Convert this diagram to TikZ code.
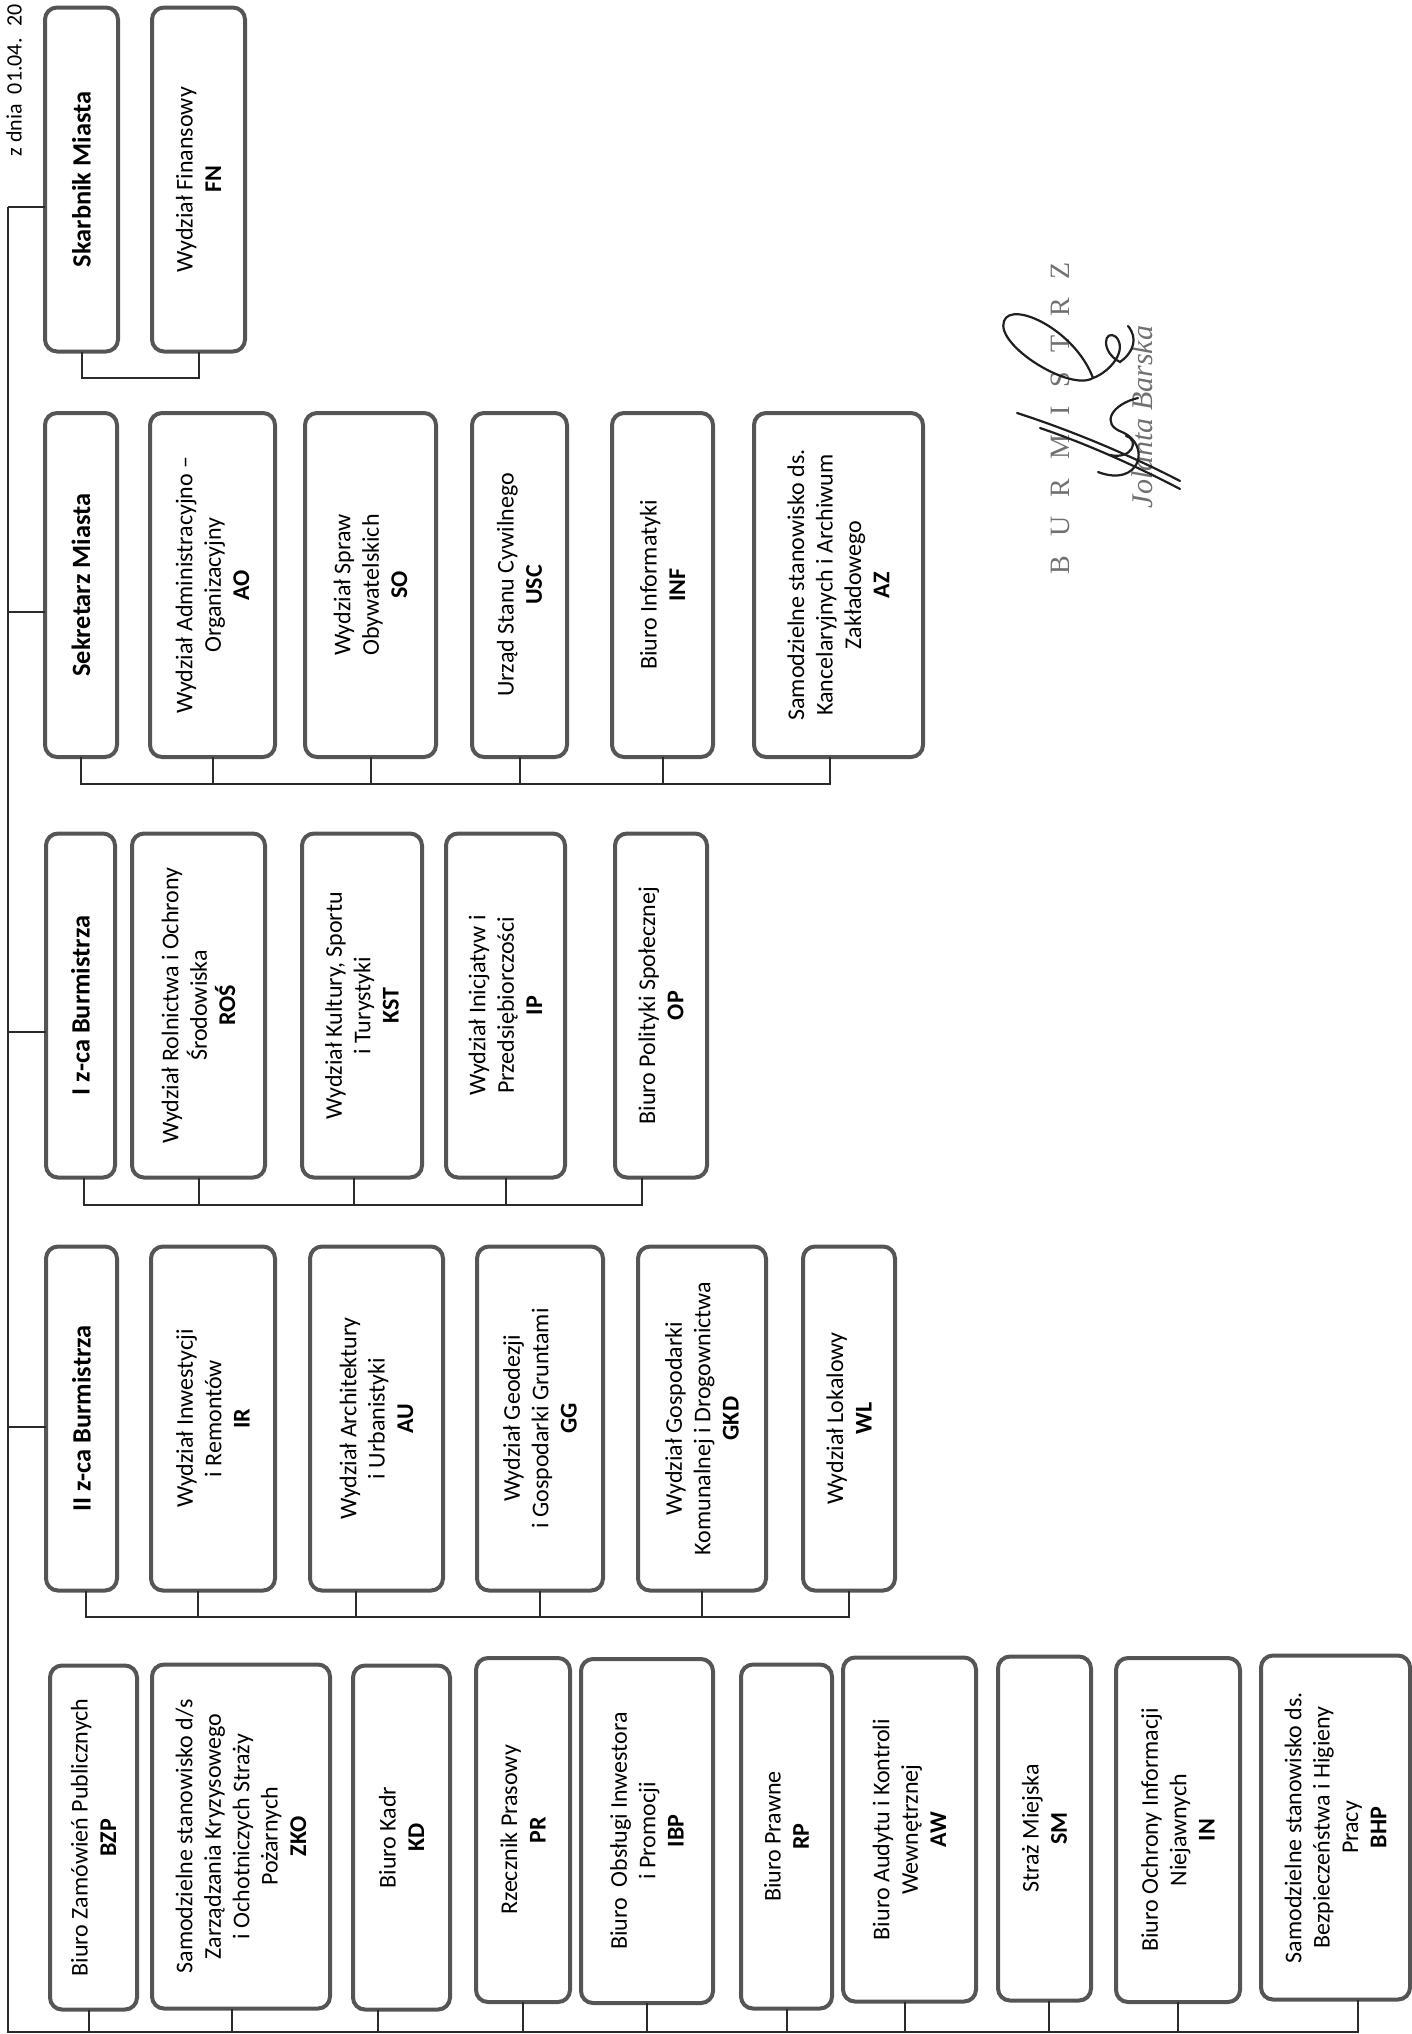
\documentclass[tikz,border=0pt]{standalone}
\usepackage{fontspec}
\setmainfont{Carlito}
\newfontfamily\stampfont{Liberation Serif}
\usepackage{tikz}
\usetikzlibrary{calc}
\definecolor{boxc}{HTML}{555555}
\definecolor{linec}{HTML}{2B2B2B}
\definecolor{stampc}{HTML}{707070}
\definecolor{inkc}{HTML}{1F1F1F}
\tikzset{
  dept/.style={draw=boxc,line width=2pt,rounded corners=6pt,rotate=90,align=center,inner sep=2pt,outer sep=0pt,minimum width=172pt,font=\fontsize{12}{14.2}\selectfont},
  chief/.style={dept,font=\fontsize{13.2}{15.5}\selectfont\bfseries},
  conn/.style={linec,line width=1pt},
  sig/.style={inkc,line width=1.1pt,line cap=round}
}

\begin{document}
\begin{tikzpicture}[x=0.5pt,y=-0.5pt]
\useasboundingbox (0,0) rectangle (1412,2034);
% main line
\coordinate (r1) at (8,207);
\coordinate (r2) at (8,612);
\coordinate (r3) at (8,1032);
\coordinate (r4) at (8,1427);
\coordinate (r5) at (8,2032);
\node[rotate=90,anchor=east,inner sep=1pt,font=\fontsize{11}{13}\selectfont] (date) at (14,2) {z dnia~ 01.04.~ 20};
% Skarbnik
\node[chief,minimum height=36.5pt] (skarb) at (81.5,179.5) {Skarbnik Miasta};
\node[dept,minimum height=46.5pt] (fn) at (198.5,179.5) {Wydział Finansowy\\\textbf{FN}};
% Sekretarz
\node[chief,minimum height=36pt] (sek) at (81,585) {Sekretarz Miasta};
\node[dept,minimum height=62.5pt] (ao) at (212.5,585) {Wydział Administracyjno --\\Organizacyjny\\\textbf{AO}};
\node[dept,minimum height=65.5pt] (so) at (370.5,585) {Wydział Spraw\\Obywatelskich\\\textbf{SO}};
\node[dept,minimum height=47.5pt] (usc) at (519.5,585) {Urząd Stanu Cywilnego\\\textbf{USC}};
\node[dept,minimum height=50.5pt] (inf) at (662.5,585) {Biuro Informatyki\\\textbf{INF}};
\node[dept,minimum height=84.5pt] (az) at (838.5,585) {Samodzielne stanowisko ds.\\Kancelaryjnych i Archiwum\\Zakładowego\\\textbf{AZ}};
% I z-ca
\node[chief,minimum height=34.5pt] (zca1) at (80.5,1005.5) {I z-ca Burmistrza};
\node[dept,minimum height=66.5pt] (ros) at (198.5,1005.5) {Wydział Rolnictwa i Ochrony\\Środowiska\\\textbf{ROŚ}};
\node[dept,minimum height=60pt] (kst) at (362,1005.5) {Wydział Kultury, Sportu\\i Turystyki\\\textbf{KST}};
\node[dept,minimum height=59.5pt] (ip) at (505.5,1005.5) {Wydział Inicjatyw i\\Przedsiębiorczości\\\textbf{IP}};
\node[dept,minimum height=46pt] (op) at (661,1005.5) {Biuro Polityki Społecznej\\\textbf{OP}};
% II z-ca
\node[chief,minimum height=35.5pt] (zca2) at (81.5,1418.5) {II z-ca Burmistrza};
\node[dept,minimum height=62pt] (ir) at (213,1418.5) {Wydział Inwestycji\\i Remontów\\\textbf{IR}};
\node[dept,minimum height=66.5pt] (au) at (376.5,1418.5) {Wydział Architektury\\i Urbanistyki\\\textbf{AU}};
\node[dept,minimum height=63pt] (gg) at (540,1418.5) {Wydział Geodezji\\i Gospodarki Gruntami\\\textbf{GG}};
\node[dept,minimum height=64pt] (gkd) at (702,1418.5) {Wydział Gospodarki\\Komunalnej i Drogownictwa\\\textbf{GKD}};
\node[dept,minimum height=46pt] (wl) at (849,1418.5) {Wydział Lokalowy\\\textbf{WL}};
% Burmistrz units
\node[dept,minimum height=43.5pt] (bzp) at (93.5,1837.5) {Biuro Zamówień Publicznych\\\textbf{BZP}};
\node[dept,minimum height=89pt] (zko) at (241,1836.5) {Samodzielne stanowisko d/s\\Zarządzania Kryzysowego\\i Ochotniczych Straży\\Pożarnych\\\textbf{ZKO}};
\node[dept,minimum height=48.5pt] (kd) at (401.5,1837.5) {Biuro Kadr\\\textbf{KD}};
\node[dept,minimum height=47pt] (pr) at (523,1830) {Rzecznik Prasowy\\\textbf{PR}};
\node[dept,minimum height=66pt] (ibp) at (647,1831) {Biuro~ Obsługi Inwestora\\i Promocji\\\textbf{IBP}};
\node[dept,minimum height=45.5pt] (rp) at (786.5,1836.5) {Biuro Prawne\\\textbf{RP}};
\node[dept,minimum height=66.5pt] (aw) at (909.5,1829.5) {Biuro Audytu i Kontroli\\Wewnętrznej\\\textbf{AW}};
\node[dept,minimum height=46.5pt] (sm) at (1044.5,1828.5) {Straż Miejska\\\textbf{SM}};
\node[dept,minimum height=62pt] (inj) at (1178,1830) {Biuro Ochrony Informacji\\Niejawnych\\\textbf{IN}};
\node[dept,minimum height=74.5pt] (bhp) at (1335.5,1827.5) {Samodzielne stanowisko ds.\\Bezpieczeństwa i Higieny\\Pracy\\\textbf{BHP}};
% connectors
\draw[conn] (r1) -- (r5) -| ($(bhp.west)+(22,0)$);
\draw[conn] (r1) -- (r1 -| skarb.north);
\draw[conn] (r2) -- (r2 -| sek.north);
\draw[conn] (r3) -- (r3 -| zca1.north);
\draw[conn] (r4) -- (r4 -| zca2.north);
\draw[conn] (skarb.west) -- ++(0,26) -| (fn.west);
\draw[conn] (sek.west) -- ++(0,27) coordinate (b2) -| ($(az.west)+(-9,0)$);
\foreach \n in {ao,so,usc,inf}
  \draw[conn] (\n.west) -- (\n.west |- b2);
\draw[conn] ($(zca1.west)+(3,0)$) -- ++(0,27) coordinate (b3) -| ($(op.west)+(-19,0)$);
\foreach \n/\d in {ros/0,kst/-8,ip/0}{
  \coordinate (t) at ($(\n.west)+(\d,0)$);
  \draw[conn] (t) -- (t |- b3);
}
\draw[conn] ($(zca2.west)+(4,0)$) -- ++(0,26) coordinate (b4) -| (wl.west);
\foreach \n/\d in {ir/-15,au/-21,gg/0,gkd/0}{
  \coordinate (t) at ($(\n.west)+(\d,0)$);
  \draw[conn] (t) -- (t |- b4);
}
\foreach \n/\d in {bzp/-5,zko/-9,kd/-24,pr/0,ibp/0,rp/0,aw/-5,sm/4,inj/0}{
  \coordinate (t) at ($(\n.west)+(\d,0)$);
  \draw[conn] (t) -- (t |- r5);
}
% stamp and signature
\node[rotate=90,stampc,font=\stampfont\fontsize{14}{16}\selectfont] (stamp) at (1060,418) {\spaceskip=9.5pt\relax B U R M I S T R Z};
\node[rotate=90,stampc,font=\stampfont\itshape\fontsize{15}{17}\selectfont] (name) at (1142,417) {Jolanta Barska};
\draw[sig] (1093,378) .. controls (1070,392) and (995,345) .. (1004,321) .. controls (1012,300) and (1075,330) .. (1093,378);
\draw[sig] (1093,378) .. controls (1110,372) and (1128,350) .. (1116,337) .. controls (1104,328) and (1100,352) .. (1120,362) .. controls (1134,352) and (1138,338) .. (1128,326);
\draw[sig] (1017,413) .. controls (1070,430) and (1130,455) .. (1180,481);
\draw[sig] (1040,428) .. controls (1090,445) and (1140,468) .. (1180,489);
\draw[sig] (1098,472) .. controls (1140,488) and (1152,445) .. (1122,432) .. controls (1100,424) and (1112,404) .. (1138,398);
\draw[sig] (1110,455) .. controls (1132,460) and (1140,440) .. (1126,436);
\end{tikzpicture}
\end{document}
